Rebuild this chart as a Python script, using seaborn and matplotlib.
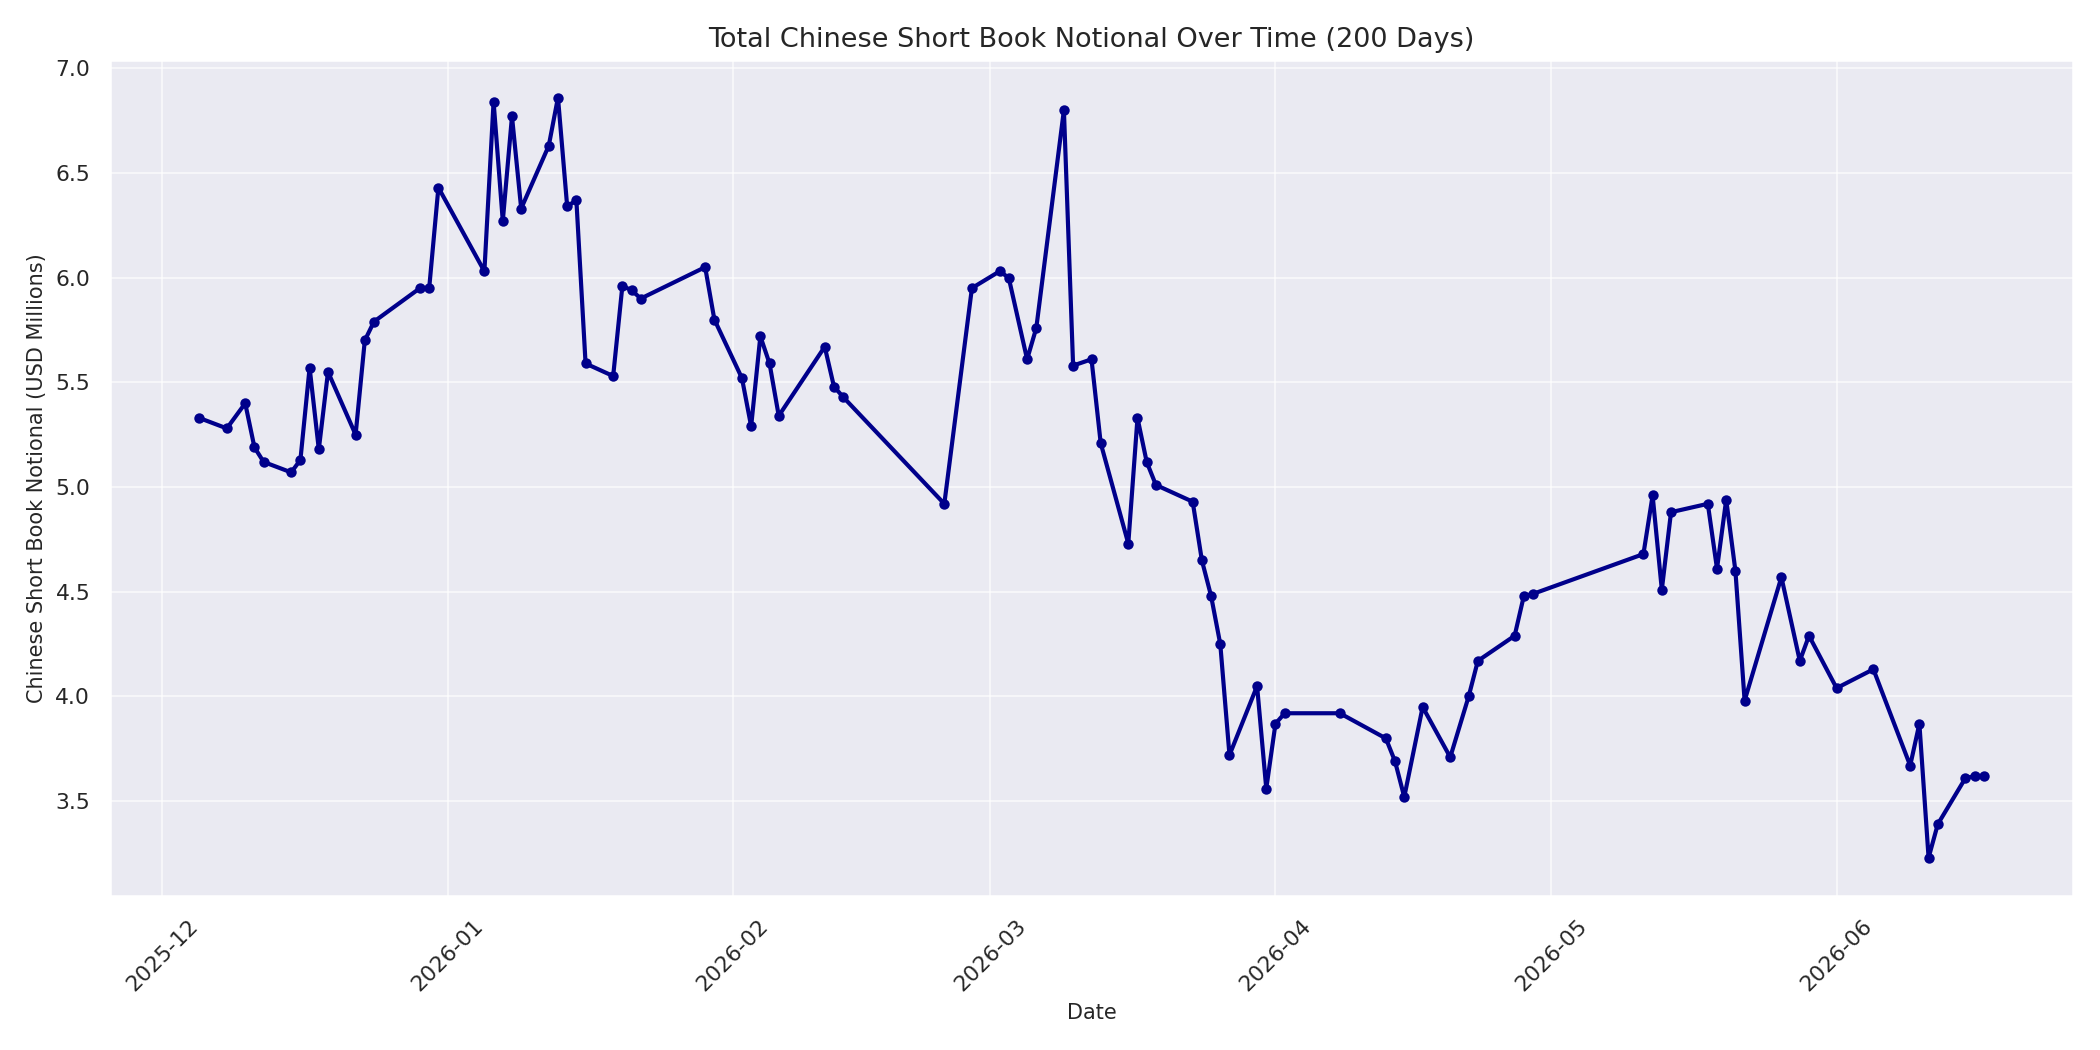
import numpy as np
import pandas as pd
import matplotlib
matplotlib.use("Agg")
import matplotlib.pyplot as plt
import matplotlib.dates as mdates
import seaborn as sns

start_date = "2025-12-01"
day_offsets = [4, 7, 9, 10, 11, 14, 15, 16, 17, 18, 21, 22, 23, 28, 29, 30,
               35, 36, 37, 38, 39, 42, 43, 44, 45, 46, 49, 50, 51, 52, 59, 60,
               63, 64, 65, 66, 67, 72, 73, 74, 85, 88, 91, 92, 94, 95, 98, 99,
               101, 102, 105, 106, 107, 108, 112, 113, 114, 115, 116, 119, 120,
               121, 122, 128, 133, 134, 135, 137, 140, 142, 143, 147, 148, 149,
               161, 162, 163, 164, 168, 169, 170, 171, 172, 176, 178, 179, 182,
               186, 190, 191, 192, 193, 196, 197, 198]
notional = [5.33, 5.28, 5.40, 5.19, 5.12, 5.07, 5.13, 5.57, 5.18, 5.55, 5.25,
            5.70, 5.79, 5.95, 5.95, 6.43, 6.03, 6.84, 6.27, 6.77, 6.33, 6.63,
            6.86, 6.34, 6.37, 5.59, 5.53, 5.96, 5.94, 5.90, 6.05, 5.80, 5.52,
            5.29, 5.72, 5.59, 5.34, 5.67, 5.48, 5.43, 4.92, 5.95, 6.03, 6.00,
            5.61, 5.76, 6.80, 5.58, 5.61, 5.21, 4.73, 5.33, 5.12, 5.01, 4.93,
            4.65, 4.48, 4.25, 3.72, 4.05, 3.56, 3.87, 3.92, 3.92, 3.80, 3.69,
            3.52, 3.95, 3.71, 4.00, 4.17, 4.29, 4.48, 4.49, 4.68, 4.96, 4.51,
            4.88, 4.92, 4.61, 4.94, 4.60, 3.98, 4.57, 4.17, 4.29, 4.04, 4.13,
            3.67, 3.87, 3.23, 3.39, 3.61, 3.62, 3.62]

dates = pd.Timestamp(start_date) + pd.to_timedelta(day_offsets, unit="D")
df = pd.DataFrame({"Date": dates, "Notional": notional})

sns.set_theme(style="darkgrid")
plt.rcParams["font.family"] = ["DejaVu Sans"]
fig, ax = plt.subplots(figsize=(14, 7), dpi=150)
ax.grid(True, color="white", alpha=0.6)
sns.lineplot(data=df, x="Date", y="Notional", ax=ax, color="darkblue",
             linewidth=2, marker="o", markersize=5, markeredgewidth=0)
ax.set_title("Total Chinese Short Book Notional Over Time (200 Days)", fontsize=13)
ax.set_xlabel("Date", fontsize=10)
ax.set_ylabel("Chinese Short Book Notional (USD Millions)", fontsize=10)
ax.xaxis.set_major_locator(mdates.MonthLocator())
ax.xaxis.set_major_formatter(mdates.DateFormatter("%Y-%m"))
plt.setp(ax.get_xticklabels(), rotation=45, ha="center")
ax.tick_params(labelsize=10.5)
fig.tight_layout()
fig.savefig("out.png")
